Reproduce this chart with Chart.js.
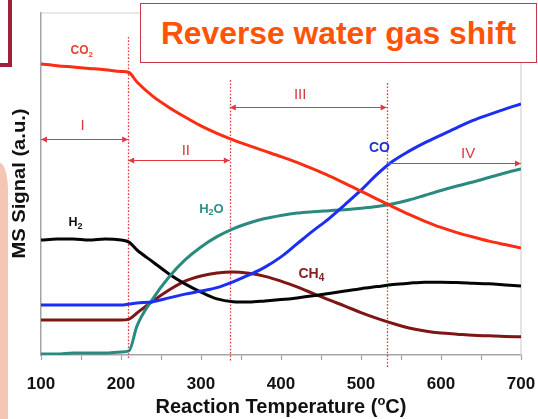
<!DOCTYPE html>
<html>
<head>
<meta charset="utf-8">
<script src="https://cdn.jsdelivr.net/npm/chart.js@4.4.1/dist/chart.umd.min.js"></script>
<style>
  html, body { margin: 0; padding: 0; background: #fff; }
  #wrap { position: relative; width: 538px; height: 419px; overflow: hidden; background: #fff;
          font-family: "Liberation Sans", Arial, sans-serif; }
  #chart { position: absolute; left: 0; top: 0; }
  .title-box { position: absolute; left: 140px; top: 3px; width: 397px; height: 60px; box-sizing: border-box;
               border: 1.5px solid #c8384c; background: #fff; display: flex; align-items: center;
               justify-content: center; color: #ff5308; font-weight: bold; font-size: 31.8px; }
  .corner { position: absolute; left: 0; top: 0; width: 8px; height: 63px; border-right: 4px solid #a3203c;
            border-bottom: 4px solid #a3203c; }
  .band { position: absolute; left: 0; top: 163px; width: 8px; height: 260px; background: #f4c6b4;
          border-top-right-radius: 9px 32px; }
</style>
</head>
<body>
<div id="wrap">
  <canvas id="chart" width="538" height="419"></canvas>
  <div class="corner"></div>
  <div class="band"></div>
  <div class="title-box">Reverse water gas shift</div>
</div>
<script>
// Reaction temperature (°C) at which each signal was sampled
const temperatureC = [100, 120, 140, 160, 180, 200, 210, 220, 240, 260, 280, 300, 320, 340, 360, 380,
                      400, 420, 440, 460, 480, 500, 520, 540, 560, 580, 600, 620, 640, 660, 680, 700];

// MS signals (a.u.)
const co2Signal = [85.1, 84.6, 84.2, 83.8, 83.4, 82.9, 82.6, 79.8, 75.6, 72.4, 69.6, 67.0, 64.8, 62.9, 61.2, 59.6,
                   58.0, 56.3, 54.4, 52.4, 50.2, 47.9, 45.6, 43.3, 41.1, 39.1, 37.3, 35.8, 34.5, 33.3, 32.3, 31.3];
const h2Signal  = [33.6, 33.9, 33.9, 33.6, 33.9, 33.6, 33.0, 30.7, 27.2, 23.7, 20.8, 18.4, 16.4, 15.6, 15.5, 15.8,
                   16.2, 16.7, 17.3, 18.0, 18.7, 19.4, 20.0, 20.6, 21.0, 21.3, 21.3, 21.2, 21.0, 20.8, 20.5, 20.2];
const coSignal  = [14.6, 14.6, 14.6, 14.6, 14.6, 14.6, 14.9, 15.2, 15.6, 16.7, 17.8, 18.7, 19.7, 21.4, 23.4, 25.7,
                   28.7, 32.5, 36.3, 39.9, 44.0, 48.2, 52.8, 56.7, 59.6, 62.1, 64.3, 66.5, 68.6, 70.3, 71.9, 73.4];
const h2oSignal = [0.3, 0.3, 0.6, 0.6, 0.6, 0.9, 1.2, 8.5, 16.5, 22.8, 27.8, 31.6, 34.6, 36.9, 38.6, 39.9,
                   40.8, 41.5, 41.9, 42.2, 42.5, 42.9, 43.4, 44.2, 45.3, 46.7, 48.1, 49.4, 50.6, 51.9, 53.2, 54.4];
const ch4Signal = [10.2, 10.2, 10.2, 10.2, 10.2, 10.2, 10.5, 12.3, 15.8, 19.0, 21.6, 23.1, 24.0, 24.3, 23.9, 23.0,
                   21.6, 19.9, 18.0, 16.1, 14.3, 12.4, 10.7, 9.2, 7.9, 7.0, 6.4, 6.1, 5.8, 5.6, 5.4, 5.3];

// Temperature regimes and the boundaries between them
const regimeNames = ['I', 'II', 'III', 'IV'];
const regimeStart = [100, 209, 336, 532];
const regimeEnd   = [209, 336, 532, 700];
const boundaryTemps = [209, 336, 532];

// Tick labels on the temperature axis
const tickLabels = [100, 200, 300, 400, 500, 600, 700];

const FONT = '"Liberation Sans", Arial, sans-serif';

function toPoints(values) {
  return values.map((v, i) => ({ x: temperatureC[i], y: v }));
}

// Draws text where digits become subscripts (chemical formulas)
function drawFormula(ctx, text, cx, cy, size, color) {
  const runs = text.match(/[0-9]+|[^0-9]+/g);
  const mainFont = `bold ${size}px ${FONT}`;
  const subFont = `bold ${Math.round(size * 0.68)}px ${FONT}`;
  let total = 0;
  const widths = runs.map(r => {
    ctx.font = /[0-9]/.test(r) ? subFont : mainFont;
    const w = ctx.measureText(r).width;
    total += w;
    return w;
  });
  let xPos = cx - total / 2;
  const base = cy + size * 0.36;
  ctx.fillStyle = color;
  ctx.textAlign = 'left';
  ctx.textBaseline = 'alphabetic';
  runs.forEach((r, i) => {
    const sub = /[0-9]/.test(r);
    ctx.font = sub ? subFont : mainFont;
    ctx.fillText(r, xPos, sub ? base + size * 0.22 : base);
    xPos += widths[i];
  });
}

function arrowHead(ctx, x, y, dir) {
  ctx.beginPath();
  ctx.moveTo(x, y);
  ctx.lineTo(x - dir * 6, y - 3);
  ctx.lineTo(x - dir * 6, y + 3);
  ctx.closePath();
  ctx.fill();
}

// Annotation geometry for the regime markers and curve labels
const guides = {
  boundaryTop: [93, 80.4, 79.5],
  boundaryDrop: [3, 7, 12],
  arrowLevel: [63.2, 57.0, 72.5, 56.1],
  leftHead: [true, true, true, false],
  nameAt: [[152, 67.0], [281, 59.6], [424, 76.0], [634, 58.8]],
  curveLabels: [
    { text: 'CO2', t: 151, v: 89.2, size: 12, color: '#e8402a' },
    { text: 'H2',  t: 143, v: 38.9, size: 12.5, color: '#111111' },
    { text: 'H2O', t: 313, v: 43.0, size: 13, color: '#2f8f86' },
    { text: 'CO',  t: 523, v: 60.8, size: 14, color: '#2233cc' },
    { text: 'CH4', t: 438, v: 24.0, size: 14, color: '#862222' }
  ]
};

const annotate = {
  id: 'annotate',
  beforeDatasetsDraw(chart) {
    const { ctx, chartArea: a, scales: { x, y } } = chart;
    ctx.save();
    ctx.strokeStyle = '#d2d2d2';
    ctx.lineWidth = 1.2;
    ctx.beginPath();
    ctx.moveTo(a.left, a.top);
    ctx.lineTo(a.right, a.top);
    ctx.lineTo(a.right, a.bottom);
    ctx.stroke();

    ctx.strokeStyle = '#e2383f';
    ctx.lineWidth = 1.3;
    ctx.setLineDash([1.6, 1.8]);
    boundaryTemps.forEach((t, i) => {
      const px = Math.round(x.getPixelForValue(t)) + 0.5;
      ctx.beginPath();
      ctx.moveTo(px, y.getPixelForValue(guides.boundaryTop[i]));
      ctx.lineTo(px, a.bottom + guides.boundaryDrop[i]);
      ctx.stroke();
    });
    ctx.restore();
  },
  afterDatasetsDraw(chart) {
    const { ctx, scales: { x, y } } = chart;
    ctx.save();
    ctx.strokeStyle = '#e2383f';
    ctx.fillStyle = '#e2383f';
    ctx.lineWidth = 1.2;
    regimeNames.forEach((name, i) => {
      const x0 = x.getPixelForValue(regimeStart[i]);
      const x1 = x.getPixelForValue(regimeEnd[i]);
      const py = Math.round(y.getPixelForValue(guides.arrowLevel[i])) + 0.5;
      ctx.beginPath();
      ctx.moveTo(x0, py);
      ctx.lineTo(x1, py);
      ctx.stroke();
      arrowHead(ctx, x1, py, 1);
      if (guides.leftHead[i]) arrowHead(ctx, x0, py, -1);
      ctx.font = `15px ${FONT}`;
      ctx.textAlign = 'center';
      ctx.textBaseline = 'middle';
      ctx.fillStyle = '#d8383c';
      ctx.fillText(name, x.getPixelForValue(guides.nameAt[i][0]), y.getPixelForValue(guides.nameAt[i][1]));
      ctx.fillStyle = '#e2383f';
    });
    guides.curveLabels.forEach(l => {
      drawFormula(ctx, l.text, x.getPixelForValue(l.t), y.getPixelForValue(l.v), l.size, l.color);
    });
    ctx.restore();
  },
  afterDraw(chart) {
    const { ctx, chartArea: a } = chart;
    ctx.save();
    // temperature axis title with a raised "o" for degrees
    const mainF = `bold 20px ${FONT}`;
    const supF = `bold 13px ${FONT}`;
    const parts = [['Reaction Temperature (', mainF, 0], ['o', supF, -8], ['C)', mainF, 0]];
    let total = 0;
    const ws = parts.map(p => { ctx.font = p[1]; const w = ctx.measureText(p[0]).width; total += w; return w; });
    let xp = (a.left + a.right) / 2 - total / 2;
    ctx.fillStyle = '#111';
    ctx.textBaseline = 'alphabetic';
    ctx.textAlign = 'left';
    parts.forEach((p, i) => { ctx.font = p[1]; ctx.fillText(p[0], xp, 413 + p[2]); xp += ws[i]; });

    // signal axis title
    ctx.translate(19.5, 183.5);
    ctx.rotate(-Math.PI / 2);
    ctx.scale(1.12, 1);
    ctx.font = `bold 18px ${FONT}`;
    ctx.textAlign = 'center';
    ctx.textBaseline = 'middle';
    ctx.fillText('MS Signal (a.u.)', 0, 1);
    ctx.restore();
  }
};

const lineStyle = { pointRadius: 0, borderWidth: 3, fill: false, cubicInterpolationMode: 'monotone' };

new Chart(document.getElementById('chart'), {
  type: 'line',
  data: {
    datasets: [
      { label: 'CO2', data: toPoints(co2Signal), borderColor: '#fb2d12', ...lineStyle },
      { label: 'CO',  data: toPoints(coSignal),  borderColor: '#1b2ef2', ...lineStyle },
      { label: 'H2O', data: toPoints(h2oSignal), borderColor: '#2b8a80', ...lineStyle },
      { label: 'H2',  data: toPoints(h2Signal),  borderColor: '#050505', ...lineStyle },
      { label: 'CH4', data: toPoints(ch4Signal), borderColor: '#7e1616', ...lineStyle }
    ]
  },
  options: {
    responsive: false,
    animation: false,
    layout: { padding: { top: 13, right: 17, left: 0, bottom: 0 } },
    plugins: { legend: { display: false }, tooltip: { enabled: false } },
    scales: {
      x: {
        type: 'linear', min: 100, max: 700,
        ticks: {
          stepSize: 50, autoSkip: false, maxRotation: 0, padding: 14, color: '#111',
          font: { family: FONT, size: 17, weight: 'bold' },
          callback: v => (tickLabels.includes(v) ? String(v) : '')
        },
        grid: { display: true, drawOnChartArea: false, drawTicks: true, tickLength: 5, tickColor: '#a4a4a4', tickWidth: 1.2 },
        border: { color: '#a4a4a4', width: 1.5 },
        afterFit: s => { s.height = 64; s.paddingLeft = 0; s.paddingRight = 0; }
      },
      y: {
        min: 0, max: 100,
        ticks: { display: false },
        grid: { display: true, drawOnChartArea: false, drawTicks: false },
        border: { color: '#a4a4a4', width: 1.5 },
        afterFit: s => { s.width = 41; s.paddingTop = 0; s.paddingBottom = 0; }
      }
    }
  },
  plugins: [annotate]
});
</script>
</body>
</html>
